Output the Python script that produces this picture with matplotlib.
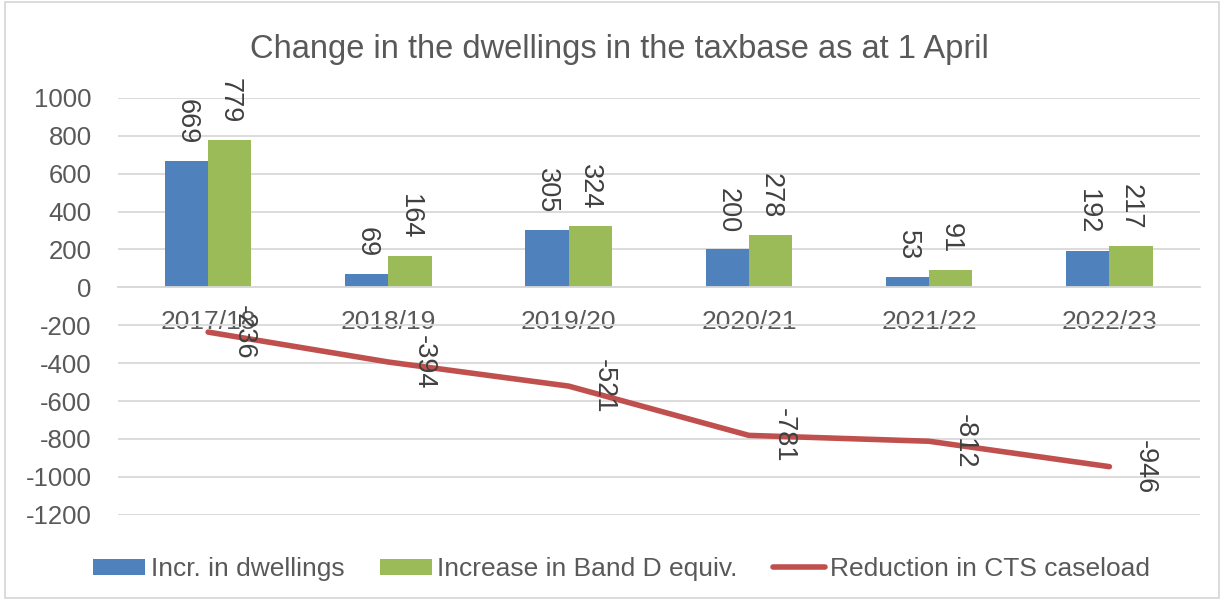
import matplotlib.pyplot as plt
import numpy as np
from matplotlib.patches import Rectangle

# ---------------------------------------------------------------------------
# Data
# ---------------------------------------------------------------------------
years = ["2017/18", "2018/19", "2019/20", "2020/21", "2021/22", "2022/23"]
incr_dwellings = [669, 69, 305, 200, 53, 192]
incr_band_d = [779, 164, 324, 278, 91, 217]
cts_reduction = [-236, -394, -521, -781, -812, -946]

y_ticks = list(range(-1200, 1001, 200))

# ---------------------------------------------------------------------------
# Style (Excel-like)
# ---------------------------------------------------------------------------
BLUE = "#4F81BD"
GREEN = "#9BBB59"
RED = "#C0504D"
TEXT = "#595959"
GRID = "#D9D9D9"

plt.rcParams.update(
    {
        "font.family": ["Liberation Sans", "DejaVu Sans"],
        "font.size": 19,
        "text.color": TEXT,
        "xtick.color": TEXT,
        "ytick.color": TEXT,
        "axes.unicode_minus": False,
    }
)

fig = plt.figure(figsize=(12.24, 6.0), dpi=100)
ax = fig.add_axes([0.0964, 0.142, 0.8836, 0.695])

x = np.arange(len(years))
w = 0.24

bars1 = ax.bar(x - w / 2, incr_dwellings, w, color=BLUE, label="Incr. in dwellings", zorder=2)
bars2 = ax.bar(x + w / 2, incr_band_d, w, color=GREEN, label="Increase in Band D equiv.", zorder=2)
(line,) = ax.plot(x, cts_reduction, color=RED, linewidth=4, solid_capstyle="round",
                  label="Reduction in CTS caseload", zorder=3)

# data labels, rotated like the Excel chart
for xi, v in zip(x - w / 2, incr_dwellings):
    ax.annotate(str(v), (xi, v), xytext=(0, 12), textcoords="offset points",
                rotation=270, ha="center", va="bottom", color="#404040", fontsize=19.5)
for xi, v in zip(x + w / 2, incr_band_d):
    ax.annotate(str(v), (xi, v), xytext=(0, 12), textcoords="offset points",
                rotation=270, ha="center", va="bottom", color="#404040", fontsize=19.5)
for xi, v in zip(x, cts_reduction):
    ax.annotate(str(v), (xi, v), xytext=(16, 0), textcoords="offset points",
                rotation=270, ha="left", va="center", color="#404040", fontsize=19.5)

ax.set_xlim(-0.5, len(years) - 0.5)
ax.set_ylim(-1200, 1000)
ax.set_yticks(y_ticks)
ax.set_xticks(x)
ax.set_xticklabels(years, fontsize=19.5)
ax.tick_params(axis="y", labelsize=18.5)
ax.grid(axis="y", color=GRID, linewidth=1.3, zorder=0)
ax.set_axisbelow(True)

for side in ["top", "right", "left"]:
    ax.spines[side].set_visible(False)
ax.spines["bottom"].set_position(("data", 0))
ax.spines["bottom"].set_color(GRID)
ax.spines["bottom"].set_linewidth(1.3)
ax.tick_params(axis="both", length=0)
ax.tick_params(axis="y", pad=19)
ax.tick_params(axis="x", pad=16)

fig.text(0.506, 0.918, "Change in the dwellings in the taxbase as at 1 April",
         ha="center", va="center", fontsize=23.5, color=TEXT)

fig.legend(handles=[bars1, bars2, line], loc="lower center",
           bbox_to_anchor=(0.508, -0.008), ncol=3,
           frameon=False, handlelength=1.97, handleheight=0.55,
           handletextpad=0.2, columnspacing=1.35, fontsize=19)

# light outer frame as in the chart area of the original
fig.patches.append(Rectangle((0.004, 0.004), 0.992, 0.992, transform=fig.transFigure,
                             fill=False, edgecolor=GRID, linewidth=1.3))

fig.savefig("out.png", dpi=100)
